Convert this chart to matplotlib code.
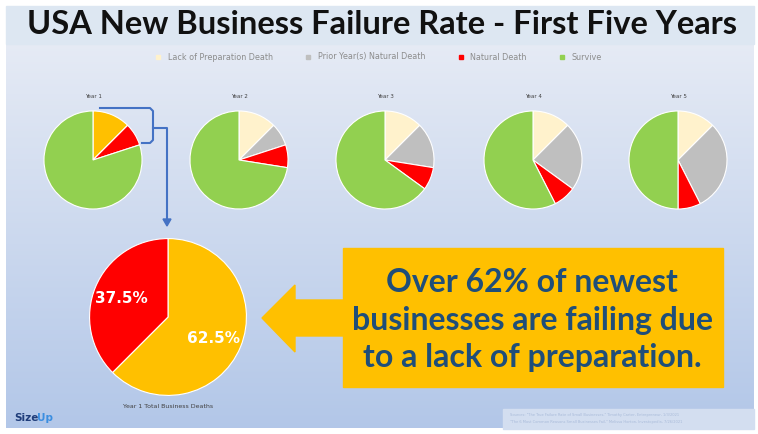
import numpy as np
import matplotlib.pyplot as plt
from matplotlib.patches import Rectangle, Polygon
from matplotlib.lines import Line2D

# data (percent of businesses started)
years = ["Year 1", "Year 2", "Year 3", "Year 4", "Year 5"]
lack_prep = [12.5, 12.5, 12.5, 12.5, 12.5]
prior_natural = [0, 7.5, 15, 22.5, 30]
natural = [7.5, 7.5, 7.5, 7.5, 7.5]
survive = [80, 72.5, 65, 57.5, 50]
series_names = ["Lack of Preparation Death", "Prior Year(s) Natural Death", "Natural Death", "Survive"]

# year 1 deaths split
y1_labels = ["62.5%", "37.5%"]
y1_deaths = [62.5, 37.5]

W, H = 758, 434
cream, gray, red, green, orange = "#fff2cc", "#bfbfbf", "#ff0000", "#92d050", "#ffc000"
navy = "#1f4e79"

fig = plt.figure(figsize=(W / 100, H / 100), dpi=100)
fig.patch.set_facecolor("white")
ax = fig.add_axes([0, 0, 1, 1])
ax.set_xlim(0, W)
ax.set_ylim(H, 0)
ax.axis("off")

# background gradient
grad = np.linspace(0, 1, 200)[:, None]
top = np.array([0.90, 0.92, 0.96])
bot = np.array([0.70, 0.78, 0.91])
img = top + grad[..., None] * (bot - top)
img = np.repeat(img, 2, axis=1)
ax.imshow(img, extent=(6, 754, 428, 44), aspect="auto", zorder=0)
ax.add_patch(Rectangle((6, 6), 748, 38, color="#dde7f2", zorder=1))

ax.text(382, 25, "USA New Business Failure Rate - First Five Years", ha="center", va="center",
        fontsize=23.5, fontfamily="Lato", fontweight="bold", color="#111111", zorder=3)

# legend
handles = [Line2D([], [], marker="s", ls="", color=c, markersize=3) for c in [cream, gray, red, green]]
ax.legend(handles, series_names, loc="center", bbox_to_anchor=(376 / W, 1 - 57 / H), ncol=4,
          frameon=False, fontsize=5.8, handletextpad=0.2, columnspacing=3.4, labelcolor="#8c8c8c")

# five small pies
cx = [93, 239, 385, 533, 678]
cy, r = 160, 50
for i in range(5):
    pax = fig.add_axes([(cx[i] - r) / W, 1 - (cy + r) / H, 2 * r / W, 2 * r / H])
    cols = [orange if i == 0 else cream, gray, red, green]
    vals = [lack_prep[i], prior_natural[i], natural[i], survive[i]]
    pax.pie(vals, colors=cols, startangle=90, counterclock=False,
            wedgeprops=dict(edgecolor="white", linewidth=0.8))
    pax.set_xlim(-1.02, 1.02)
    pax.set_ylim(-1.02, 1.02)
    ax.text(cx[i], 96, years[i], ha="center", va="center", fontsize=4, color="#404040")

# bracket from year 1 pie down to the big pie
blue = "#4472c4"
ax.plot([100, 150, 153, 153, 150, 142], [108, 108, 111, 140, 143, 143], color=blue, lw=1.5, zorder=4)
ax.plot([153, 167, 167], [128, 128, 220], color=blue, lw=1.5, zorder=4)
ax.add_patch(Polygon([[163, 219], [171, 219], [167, 226]], color=blue, zorder=4))

# big pie
br = 80
bax = fig.add_axes([(168 - br) / W, 1 - (317 + br) / H, 2 * br / W, 2 * br / H])
wedges, texts = bax.pie(y1_deaths, colors=[orange, red], startangle=90, counterclock=False,
                        wedgeprops=dict(edgecolor="white", linewidth=0.8))
bax.set_xlim(-1.02, 1.02)
bax.set_ylim(-1.02, 1.02)
bax.text(0.58, -0.28, y1_labels[0], ha="center", va="center", color="white", fontsize=11, fontweight="bold")
bax.text(-0.6, 0.24, y1_labels[1], ha="center", va="center", color="white", fontsize=11, fontweight="bold")
ax.text(168, 407, "Year 1 Total Business Deaths", ha="center", va="center", fontsize=4.5, color="#404040")

# arrow and callout box
ax.add_patch(Polygon([[262, 318], [295, 285], [295, 300], [345, 300], [345, 336], [295, 336], [295, 352]],
                     color=orange, zorder=3))
ax.add_patch(Rectangle((343, 248), 380, 139, color=orange, zorder=3))
for k, line in enumerate(["Over 62% of newest", "businesses are failing due", "to a lack of preparation."]):
    ax.text(532, 283 + 37.5 * k, line, ha="center", va="center", fontsize=23, fontfamily="Lato",
            fontweight="bold", color=navy, zorder=4)

# logo
ax.text(14, 418, "Size", ha="left", va="center", fontsize=7.5, fontweight="bold", color="#1f3d7a")
ax.text(37, 418, "Up", ha="left", va="center", fontsize=7.5, fontweight="bold", color="#3b8ee0")

# sources
ax.add_patch(Rectangle((503, 409), 251, 20, color="#d3def0", zorder=2))
ax.text(510, 415, "Sources: \"The True Failure Rate of Small Businesses,\" Timothy Carter, Entrepreneur, 1/3/2021",
        fontsize=2.6, color="#a9bbd9", va="center", zorder=3)
ax.text(510, 422, "\"The 6 Most Common Reasons Small Businesses Fail,\" Melissa Horton, Investopedia, 7/26/2021",
        fontsize=2.6, color="#a9bbd9", va="center", zorder=3)

fig.savefig("out.png", dpi=100)
